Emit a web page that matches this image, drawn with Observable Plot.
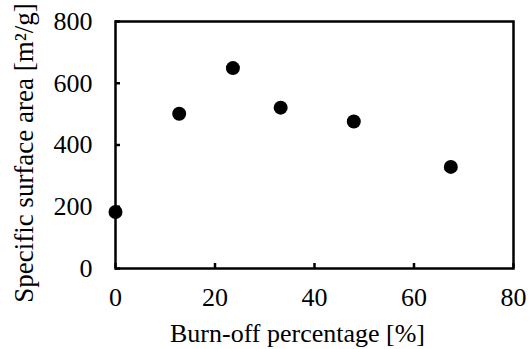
<!DOCTYPE html>
<html>
<head>
<meta charset="utf-8">
<script src="https://cdn.jsdelivr.net/npm/d3@7"></script>
<script src="https://cdn.jsdelivr.net/npm/@observablehq/plot@0.6"></script>
<style>
  html, body { margin: 0; padding: 0; background: #fff; }
</style>
</head>
<body>
<div id="chart"></div>
<script>
const burnOff = [0, 12.8, 23.6, 33.2, 47.9, 67.4];
const surfaceArea = [183, 501, 649, 521, 476, 329];
const xTicks = [0, 20, 40, 60, 80];
const yTicks = [0, 200, 400, 600, 800];
const xLabel = "Burn-off percentage [%]";
const yLabel = "Specific surface area [m²/g]";

const data = burnOff.map((x, i) => ({x, y: surfaceArea[i]}));
const font = "'Liberation Serif', 'Times New Roman', serif";

const chart = Plot.plot({
  width: 531,
  height: 349,
  marginLeft: 115,
  marginRight: 18,
  marginTop: 21,
  marginBottom: 81,
  style: {color: "#000", background: "#fff", fontFamily: font, fontSize: "26px"},
  x: {domain: [0, 80]},
  y: {domain: [0, 800]},
  marks: [
    Plot.axisX({ticks: xTicks, tickSize: -5, tickPadding: 24, strokeWidth: 2.5, label: null, fontSize: 26}),
    Plot.axisY({ticks: yTicks, tickSize: -5, tickPadding: 28, strokeWidth: 2.5, label: null, fontSize: 26}),
    Plot.text([xLabel], {text: d => d, frameAnchor: "bottom", textAnchor: "middle", lineAnchor: "middle", dx: -17, dy: 65, fontSize: 26, fill: "#000"}),
    Plot.text([yLabel], {text: d => d, frameAnchor: "left", textAnchor: "middle", lineAnchor: "middle", rotate: -90, dx: -91, dy: 8, fontSize: 27, fill: "#000"}),
    Plot.frame({stroke: "#000", strokeWidth: 2.5}),
    Plot.dot(data, {x: "x", y: "y", r: 7, fill: "#000", stroke: "none"})
  ]
});
document.getElementById("chart").appendChild(chart);
</script>
</body>
</html>
